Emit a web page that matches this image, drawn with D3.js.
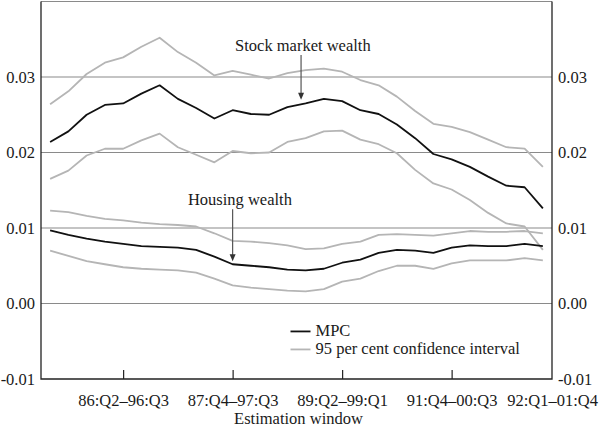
<!DOCTYPE html>
<html>
<head>
<meta charset="utf-8">
<script src="https://cdn.jsdelivr.net/npm/d3@7"></script>
<style>
  body { margin: 0; background: #fff; }
  text { font-family: "Liberation Serif", "DejaVu Serif", serif; fill: #1a1a1a; }
</style>
</head>
<body>
<svg id="chart" width="600" height="429"></svg>
<script>
// estimation windows (x ticks) and where they sit in the series index
var xLabels = ["86:Q2–96:Q3", "87:Q4–97:Q3", "89:Q2–99:Q1", "91:Q4–00:Q3", "92:Q1–01:Q4"];
var xTickIdx = [4, 10, 16, 22, 27.5];
var yTicks = [-0.01, 0.00, 0.01, 0.02, 0.03];
var yGrid = [0.00, 0.01, 0.02, 0.03, 0.04];

// stock market wealth
var stockMpc = [0.0214,0.0228,0.0250,0.0263,0.0265,0.0278,0.0289,0.0271,0.0259,0.0245,0.0256,0.0251,0.0250,0.0260,
                0.0265,0.0271,0.0268,0.0256,0.0251,0.0237,0.0219,0.0198,0.0191,0.0181,0.0168,0.0156,0.0154,0.0126];
var stockHi  = [0.0264,0.0281,0.0304,0.0319,0.0326,0.0340,0.0352,0.0333,0.0319,0.0302,0.0308,0.0303,0.0298,0.0305,
                0.0309,0.0311,0.0307,0.0296,0.0289,0.0274,0.0255,0.0238,0.0234,0.0227,0.0217,0.0207,0.0205,0.0181];
var stockLo  = [0.0165,0.0176,0.0196,0.0205,0.0205,0.0216,0.0225,0.0207,0.0197,0.0187,0.0202,0.0199,0.0200,0.0214,
                0.0219,0.0228,0.0229,0.0217,0.0211,0.0199,0.0177,0.0159,0.0151,0.0137,0.0120,0.0106,0.0102,0.0071];

// housing wealth
var houseMpc = [0.0097,0.0091,0.0086,0.0082,0.0079,0.0076,0.0075,0.0074,0.0071,0.0062,0.0052,0.0050,0.0048,0.0045,
                0.0044,0.0046,0.0054,0.0058,0.0067,0.0071,0.0070,0.0067,0.0074,0.0077,0.0076,0.0076,0.0079,0.0076];
var houseHi  = [0.0123,0.0121,0.0116,0.0112,0.0110,0.0107,0.0105,0.0104,0.0102,0.0093,0.0083,0.0082,0.0080,0.0077,
                0.0072,0.0073,0.0079,0.0082,0.0091,0.0092,0.0091,0.0090,0.0093,0.0096,0.0095,0.0095,0.0096,0.0093];
var houseLo  = [0.0070,0.0063,0.0056,0.0052,0.0048,0.0046,0.0045,0.0044,0.0041,0.0033,0.0024,0.0021,0.0019,0.0017,
                0.0016,0.0019,0.0029,0.0033,0.0043,0.0050,0.0050,0.0046,0.0053,0.0057,0.0057,0.0057,0.0060,0.0057];

var svg = d3.select("#chart");
var m = {left: 41, top: 1.5, right: 48, bottom: 50};
var W = 600 - m.left - m.right, H = 429 - m.top - m.bottom;
var g = svg.append("g").attr("transform", "translate(" + m.left + "," + m.top + ")");

var x = d3.scaleLinear().domain([-0.5, stockMpc.length - 0.5]).range([0, W]);
var y = d3.scaleLinear().domain([-0.01, 0.04]).range([H, 0]);

// grid
g.selectAll(".grid").data(yGrid).enter().append("line")
  .attr("class", "grid")
  .attr("x1", 0).attr("x2", W)
  .attr("y1", function(d) { return y(d); })
  .attr("y2", function(d) { return y(d); })
  .attr("stroke", "#8a8a8a").attr("stroke-width", 1.2);

var fmt = function(d) { return d.toFixed(2); };

function styleAxis(a) {
  a.select(".domain").remove();
  a.selectAll("text").style("font-size", "16.5px").attr("fill", "#1a1a1a");
}

g.append("g").call(d3.axisLeft(y).tickValues(yTicks).tickFormat(fmt).tickSize(0).tickPadding(6)).call(styleAxis);
g.append("g").attr("transform", "translate(" + W + ",0)")
  .call(d3.axisRight(y).tickValues(yTicks).tickFormat(fmt).tickSize(0).tickPadding(6)).call(styleAxis);

var xa = g.append("g").attr("transform", "translate(0," + H + ")")
  .call(d3.axisBottom(x).tickValues(xTickIdx)
    .tickFormat(function(d, i) { return xLabels[i]; })
    .tickSizeInner(-9).tickSizeOuter(0).tickPadding(15));
styleAxis(xa);
xa.selectAll("line").attr("stroke", "#222").attr("stroke-width", 1.2);
xa.selectAll(".tick").filter(function(d, i) { return i == xLabels.length - 1; }).select("line").remove();

// frame
g.append("path")
  .attr("d", "M0,0V" + H + "H" + W + "V0")
  .attr("fill", "none").attr("stroke", "#222").attr("stroke-width", 1.3);

g.append("text").attr("x", W / 2 + 2).attr("y", H + 45)
  .attr("text-anchor", "middle").style("font-size", "16.5px").text("Estimation window");

// series
var line = d3.line().x(function(d, i) { return x(i); }).y(function(d) { return y(d); });
var series = [
  {v: stockHi, c: "#b5b5b5"}, {v: stockLo, c: "#b5b5b5"},
  {v: houseHi, c: "#b5b5b5"}, {v: houseLo, c: "#b5b5b5"},
  {v: stockMpc, c: "#111"}, {v: houseMpc, c: "#111"}
];
g.selectAll(".series").data(series).enter().append("path")
  .attr("class", "series")
  .attr("d", function(d) { return line(d.v); })
  .attr("fill", "none")
  .attr("stroke", function(d) { return d.c; })
  .attr("stroke-width", 1.8)
  .attr("stroke-linejoin", "round");

// annotations with arrows
var notes = [
  {t: "Stock market wealth", tx: 13.85, ty: 0.0335, ax: 13.75, a0: 0.0329, a1: 0.0270},
  {t: "Housing wealth", tx: 10.4, ty: 0.0131, ax: 10, a0: 0.0125, a1: 0.0056}
];
var ng = g.selectAll(".note").data(notes).enter().append("g").attr("class", "note");
ng.append("text")
  .attr("x", function(d) { return x(d.tx); })
  .attr("y", function(d) { return y(d.ty); })
  .attr("text-anchor", "middle").style("font-size", "16.5px")
  .text(function(d) { return d.t; });
ng.append("line")
  .attr("x1", function(d) { return x(d.ax); }).attr("x2", function(d) { return x(d.ax); })
  .attr("y1", function(d) { return y(d.a0); }).attr("y2", function(d) { return y(d.a1) - 5; })
  .attr("stroke", "#555").attr("stroke-width", 1.2);
ng.append("path")
  .attr("d", function(d) {
    var px = x(d.ax), py = y(d.a1);
    return "M" + (px - 3) + "," + (py - 7) + "L" + (px + 3) + "," + (py - 7) + "L" + px + "," + py + "Z";
  })
  .attr("fill", "#333");

// legend
var legend = [{t: "MPC", c: "#111"}, {t: "95 per cent confidence interval", c: "#b5b5b5"}];
var lg = g.append("g").attr("transform", "translate(" + (W / 2 - 6) + "," + y(-0.0037) + ")");
var li = lg.selectAll(".li").data(legend).enter().append("g")
  .attr("transform", function(d, i) { return "translate(0," + (i * 18) + ")"; });
li.append("line").attr("x1", 0).attr("x2", 20)
  .attr("stroke", function(d) { return d.c; }).attr("stroke-width", 1.8);
li.append("text").attr("x", 25).attr("y", 5).style("font-size", "16.5px")
  .text(function(d) { return d.t; });
</script>
</body>
</html>
